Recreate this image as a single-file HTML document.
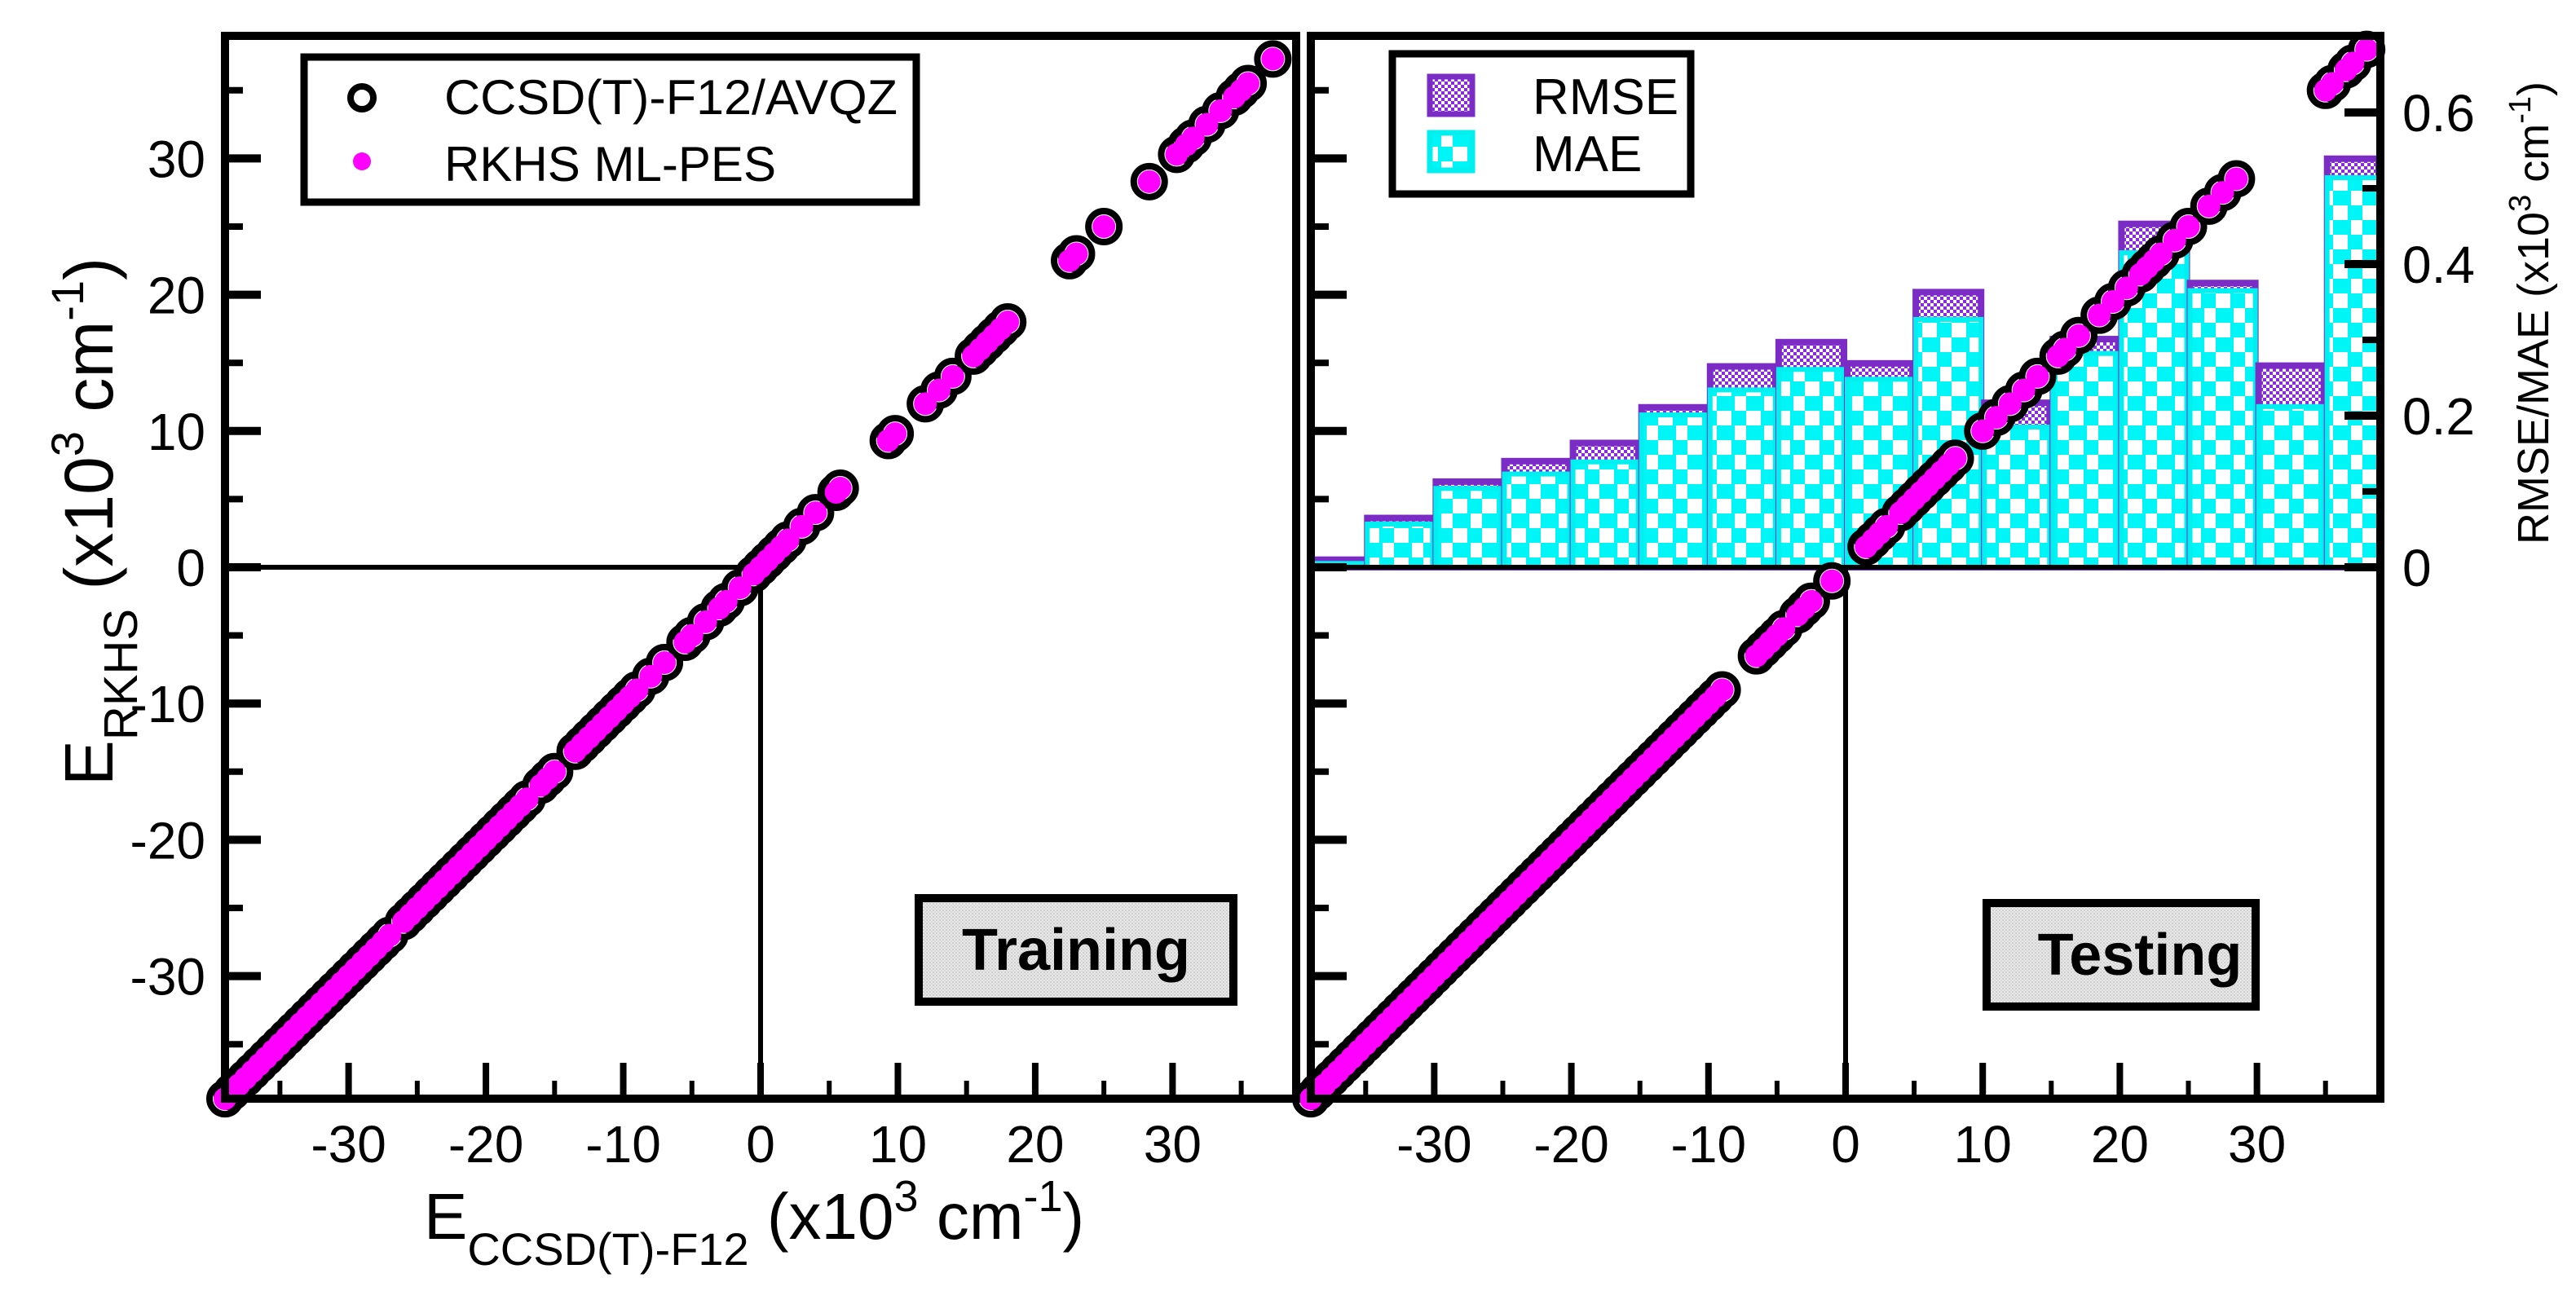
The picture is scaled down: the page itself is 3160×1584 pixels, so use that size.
<!DOCTYPE html>
<html><head><meta charset="utf-8"><style>
html,body{margin:0;padding:0;background:#fff}
svg{display:block;font-family:"Liberation Sans",sans-serif}
</style></head><body>
<svg id="chart" width="3160" height="1584" viewBox="0 0 3160 1584" xmlns="http://www.w3.org/2000/svg">
<defs>
<pattern id="pMae" width="36" height="36" patternUnits="userSpaceOnUse">
<rect width="36" height="36" fill="#fff"/><rect width="18" height="18" fill="#00f6f6"/><rect x="18" y="18" width="18" height="18" fill="#00f6f6"/>
<rect x="0" y="0" width="4" height="36" fill="#00f6f6"/>
</pattern>
<pattern id="pRmse" width="8" height="8" patternUnits="userSpaceOnUse">
<rect width="8" height="8" fill="#fff"/><rect width="4" height="4" fill="#8a2be2"/><rect x="4" y="4" width="4" height="4" fill="#8a2be2"/>
</pattern>
<pattern id="pGray" width="4" height="4" patternUnits="userSpaceOnUse">
<rect width="4" height="4" fill="#e8e8e8"/><rect width="2" height="2" fill="#cfcfcf"/><rect x="2" y="2" width="2" height="2" fill="#d8d8d8"/>
</pattern>
</defs>
<g id="layer"></g>
</svg>
<script>
// ---- data ----
const trainRef = [-39,-38.5,-38,-37.5,-37,-36.5,-36,-35.5,-35,-34.5,-34,-33.5,-33,-32.5,-32,-31.5,-31,-30.5,-30,-29.5,-29,-28.5,-28,-27.5,-27,-26,-25.5,-25,-24.5,-24,-23.5,-23,-22.5,-22,-21.5,-21,-20.5,-20,-19.5,-19,-18.5,-18,-17.5,-17,-16,-15.5,-15,-13.5,-13,-12.5,-12,-11.5,-11,-10.5,-10,-9.5,-9,-8,-7,-5.5,-5,-4,-3,-2.5,-1.5,-0.5,0,0.5,1,1.5,2,3,4,5.5,5.8,9.3,9.8,12,13,14,15.5,16,16.5,17,17.5,18,22.5,23,25,28.3,30.3,31,31.5,32.5,33.5,34.5,35,35.5,37.3];
const trainPred = trainRef.slice();
const testRef = [-39,-38.5,-38,-37.5,-37,-36.5,-36,-35.5,-35,-34.5,-34,-33.5,-33,-32.5,-32,-31.5,-31,-30.5,-30,-29.5,-29,-28.5,-28,-27.5,-27,-26.5,-26,-25.5,-25,-24.5,-24,-23.5,-23,-22.5,-22,-21.5,-21,-20.5,-20,-19.5,-19,-18.5,-18,-17.5,-17,-16.5,-16,-15.5,-15,-14.5,-14,-13.5,-13,-12.5,-12,-11.5,-11,-10.5,-10,-9.5,-9,-6.5,-6,-5.5,-5,-4.5,-3.5,-3,-2.5,-1,1.5,2,2.5,3,4,4.5,5,5.5,6,6.5,7,7.5,8,10,11,12,13,14,15.5,16,17,18.5,19.5,20.5,21.5,22,22.5,23,24,25,26.5,27.5,28.5,35,35.5,36.5,37,38];
const testPred = testRef.slice();
const binStart = [-40,-35,-30,-25,-20,-15,-10,-5,0,5,10,15,20,25,30,35];
const rmseVals = [0.01,0.065,0.113,0.140,0.164,0.211,0.265,0.297,0.269,0.363,0.217,0.301,0.453,0.375,0.266,0.539];
const maeVals  = [0.005,0.057,0.104,0.123,0.139,0.201,0.234,0.261,0.248,0.327,0.185,0.282,0.415,0.365,0.212,0.514];
const xTicks = [-30,-20,-10,0,10,20,30];
const yTicks = [-30,-20,-10,0,10,20,30];
const rTicks = [0,0.2,0.4,0.6];

const NS="http://www.w3.org/2000/svg";
const layer=document.getElementById('layer');
function mk(tag,attrs,parent){const e=document.createElementNS(NS,tag);for(const k in attrs)e.setAttribute(k,attrs[k]);(parent||layer).appendChild(e);return e;}

const Y0=44,Y1=1348;
const sy=v=>696-v*16.72;
const sr=r=>696-r*930;
const panels=[{x0:276,x1:1590},{x0:1608,x1:2920}];
const sx=(p,v)=>p.x0+(v+39)*(p.x1-p.x0)/78;

// histogram (right panel)
const P2=panels[1];
const hist=mk('g',{});


binStart.forEach((b,i)=>{
  const xa=Math.max(sx(P2,b),P2.x0), xb=Math.min(sx(P2,b+5),P2.x1);
  const r=mk('rect',{x:xa+2,y:sr(rmseVals[i]),width:xb-xa-4,height:sr(0)-sr(rmseVals[i]),fill:'url(#pRmse)',stroke:'#7b2cc4','stroke-width':8},hist);
  
  
  const m=mk('rect',{x:xa+2,y:sr(maeVals[i]),width:xb-xa-4,height:sr(0)-sr(maeVals[i]),fill:'url(#pMae)',stroke:'#00f0f0','stroke-width':6},hist);
  
  
});

// zero lines
let l;
l=mk('line',{x1:panels[0].x0,y1:sy(0),x2:sx(panels[0],0),y2:sy(0),stroke:'#000','stroke-width':6});

l=mk('line',{x1:sx(panels[0],0),y1:sy(0),x2:sx(panels[0],0),y2:Y1,stroke:'#000','stroke-width':6});

l=mk('line',{x1:P2.x0,y1:sy(0),x2:P2.x1,y2:sy(0),stroke:'#000','stroke-width':6});

l=mk('line',{x1:sx(P2,0),y1:sy(0),x2:sx(P2,0),y2:Y1,stroke:'#000','stroke-width':6});


// scatter
function scatter(p,ref,pred,name){
  const g=mk('g',{});
  
  
  ref.forEach((v,i)=>{const c=mk('circle',{cx:sx(p,v),cy:sy(pred[i]),r:19,fill:'#fff',stroke:'#000','stroke-width':8},g);
    });
  ref.forEach((v,i)=>{const c=mk('circle',{cx:sx(p,v),cy:sy(pred[i]),r:14,fill:'#ff00ff'},g);
    });
}
scatter(panels[0],trainRef,trainPred,'training-scatter');
scatter(P2,testRef,testPred,'testing-scatter');

// frames and ticks
panels.forEach((p,pi)=>{
  const f=mk('rect',{x:p.x0,y:Y0,width:p.x1-p.x0,height:Y1-Y0,fill:'none',stroke:'#000','stroke-width':10});
  
  
  for(let v=-35;v<=35;v+=5){
    const major=v%10===0;
    const x=sx(p,v);
    const t=mk('line',{x1:x,y1:Y1,x2:x,y2:Y1-(major?44:22),stroke:'#000','stroke-width':major?8:6});
    
    const y=sy(v);
    const t2=mk('line',{x1:p.x0,y1:y,x2:p.x0+(major?44:22),y2:y,stroke:'#000','stroke-width':major?10:8});
    
  }
  xTicks.forEach(v=>{
    const t=mk('text',{x:sx(p,v),y:1426,'font-size':64,'text-anchor':'middle'});
    t.textContent=v;
    
  });
});
yTicks.forEach(v=>{
  const t=mk('text',{x:252,y:sy(v)+23,'font-size':64,'text-anchor':'end'});
  t.textContent=v;
  
});
for(let r=0.1;r<=0.65;r+=0.1){
  const major=Math.round(r*10)%2===0;
  const t=mk('line',{x1:P2.x1,y1:sr(r),x2:P2.x1-(major?44:22),y2:sr(r),stroke:'#000','stroke-width':major?10:8});
  
}
{const t=mk('line',{x1:P2.x1,y1:sr(0),x2:P2.x1-44,y2:sr(0),stroke:'#000','stroke-width':10});
 }
rTicks.forEach(v=>{
  const t=mk('text',{x:2947,y:sr(v)+23,'font-size':64,'text-anchor':'start'});
  t.textContent=v===0?'0':v.toFixed(1);
  
});
</script>
<svg style="position:absolute;left:0;top:0" width="3160" height="1584" viewBox="0 0 3160 1584" xmlns="http://www.w3.org/2000/svg">
<g font-family="Liberation Sans, sans-serif">
<g>
<rect x="373" y="70" width="751" height="178" fill="#fff" stroke="#000" stroke-width="9"/>
<circle cx="444" cy="120" r="14" fill="#fff" stroke="#000" stroke-width="8"/>
<circle cx="444" cy="198" r="11" fill="#ff00ff"/>
<text x="545" y="140" font-size="60" textLength="556" lengthAdjust="spacingAndGlyphs">CCSD(T)-F12/AVQZ</text>
<text x="545" y="222" font-size="60" textLength="407" lengthAdjust="spacingAndGlyphs">RKHS ML-PES</text>
</g>
<g>
<rect x="1708" y="66" width="366" height="172" fill="#fff" stroke="#000" stroke-width="9"/>
<rect x="1754" y="94" width="52" height="46" fill="url(#pRmse)" stroke="#7b2cc4" stroke-width="7"/>
<rect x="1754" y="163" width="52" height="46" fill="url(#pMae)" stroke="#00f0f0" stroke-width="7"/>
<text x="1880" y="140" font-size="62">RMSE</text>
<text x="1880" y="210" font-size="62">MAE</text>
</g>
<g>
<rect x="1127" y="1102" width="386" height="127" fill="url(#pGray)" stroke="#000" stroke-width="10"/>
<text x="1320" y="1190" font-size="72" font-weight="bold" text-anchor="middle">Training</text>
</g>
<g>
<rect x="2437" y="1108" width="330" height="127" fill="url(#pGray)" stroke="#000" stroke-width="10"/>
<text x="2625" y="1196" font-size="72" font-weight="bold" text-anchor="middle">Testing</text>
</g>
<text x="520" y="1520" font-size="80">E<tspan font-size="56" dy="32">CCSD(T)-F12</tspan><tspan dy="-32"> (x10</tspan><tspan font-size="54" dy="-34">3</tspan><tspan dy="34"> cm</tspan><tspan font-size="54" dy="-34">-1</tspan><tspan dy="34">)</tspan></text>
<text transform="translate(138,640) rotate(-90)" font-size="84" text-anchor="middle">E<tspan font-size="58" dy="30">RKHS</tspan><tspan dy="-30"> (x10</tspan><tspan font-size="56" dy="-36">3</tspan><tspan dy="36"> cm</tspan><tspan font-size="56" dy="-36">-1</tspan><tspan dy="36">)</tspan></text>
<text transform="translate(3126,384) rotate(-90)" font-size="54" text-anchor="middle">RMSE/MAE (x10<tspan font-size="38" dy="-22">3</tspan><tspan dy="22"> cm</tspan><tspan font-size="38" dy="-22">-1</tspan><tspan dy="22">)</tspan></text>
</g>
</svg>
</body></html>
